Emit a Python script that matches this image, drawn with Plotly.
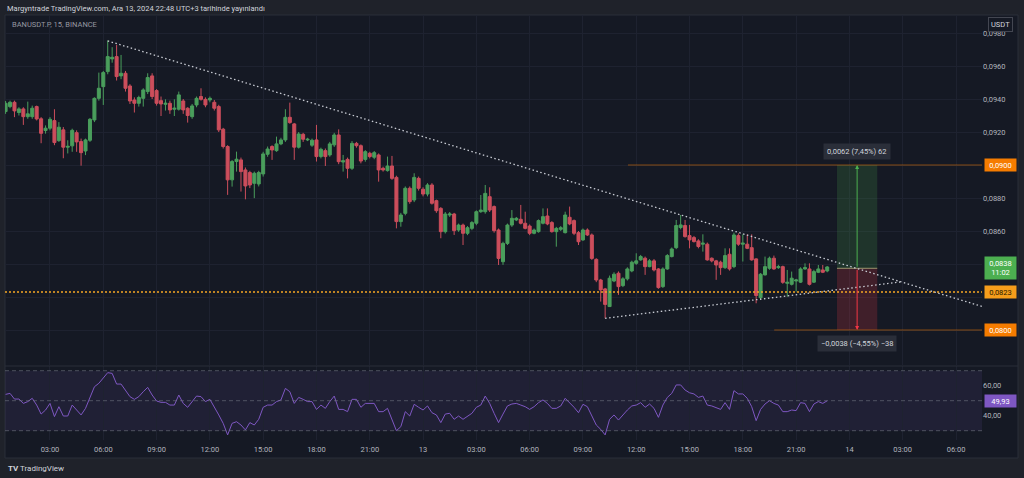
import pandas as pd
import plotly.graph_objects as go

# ---------------- data ----------------
times = pd.date_range("2024-12-12 00:30", periods=186, freq="15min")

open_ = [0.09324,0.09354,0.09380,0.09318,0.09340,0.09293,0.09293,0.09354,0.09280,0.09209,
0.09223,0.09269,0.09148,0.09213,0.09108,0.09116,0.09196,0.09142,0.09085,0.09150,
0.09273,0.09404,0.09475,0.09566,0.09643,0.09657,0.09540,0.09556,0.09479,0.09394,
0.09374,0.09404,0.09445,0.09540,0.09451,0.09390,0.09368,0.09374,0.09338,0.09338,
0.09388,0.09344,0.09293,0.09364,0.09415,0.09398,0.09394,0.09380,0.09354,0.09217,
0.09112,0.08910,0.09021,0.09031,0.08970,0.08954,0.08889,0.08885,0.08946,0.09065,
0.09112,0.09087,0.09128,0.09152,0.09289,0.09249,0.09108,0.09186,0.09152,0.09120,
0.09152,0.09051,0.09087,0.09061,0.09122,0.09182,0.09018,0.09034,0.08980,0.09131,
0.09117,0.09034,0.09071,0.09047,0.09061,0.08980,0.08966,0.08994,0.08925,0.08657,
0.08707,0.08859,0.08788,0.08919,0.08853,0.08824,0.08879,0.08784,0.08737,0.08596,
0.08697,0.08703,0.08606,0.08636,0.08586,0.08616,0.08647,0.08717,0.08717,0.08808,
0.08748,0.08606,0.08414,0.08525,0.08636,0.08667,0.08671,0.08647,0.08630,0.08586,
0.08596,0.08647,0.08691,0.08651,0.08596,0.08610,0.08590,0.08683,0.08663,0.08590,
0.08546,0.08606,0.08576,0.08428,0.08303,0.08249,0.08142,0.08297,0.08344,0.08269,
0.08310,0.08358,0.08404,0.08425,0.08435,0.08384,0.08419,0.08370,0.08263,0.08370,
0.08445,0.08499,0.08621,0.08633,0.08572,0.08560,0.08540,0.08520,0.08520,0.08435,
0.08419,0.08411,0.08378,0.08459,0.08384,0.08572,0.08520,0.08520,0.08499,0.08431,
0.08196,0.08334,0.08374,0.08435,0.08378,0.08384,0.08283,0.08277,0.08297,0.08290,
0.08370,0.08370,0.08290,0.08350,0.08364,0.08358]

high = [0.09388,0.09390,0.09390,0.09350,0.09350,0.09384,0.09360,0.09360,0.09290,0.09240,
0.09290,0.09338,0.09260,0.09230,0.09150,0.09220,0.09210,0.09160,0.09160,0.09285,
0.09410,0.09560,0.09570,0.09755,0.09714,0.09728,0.09667,0.09570,0.09490,0.09410,
0.09420,0.09465,0.09556,0.09556,0.09460,0.09415,0.09398,0.09390,0.09398,0.09445,
0.09400,0.09350,0.09370,0.09415,0.09465,0.09410,0.09415,0.09394,0.09365,0.09225,
0.09120,0.09030,0.09081,0.09045,0.08985,0.08965,0.08960,0.08965,0.09080,0.09112,
0.09120,0.09172,0.09165,0.09338,0.09378,0.09255,0.09200,0.09195,0.09165,0.09160,
0.09243,0.09105,0.09100,0.09140,0.09195,0.09216,0.09061,0.09045,0.09145,0.09140,
0.09125,0.09090,0.09080,0.09085,0.09070,0.08990,0.09051,0.09055,0.08935,0.08710,
0.08870,0.08870,0.08950,0.08930,0.08865,0.08890,0.08890,0.08790,0.08745,0.08715,
0.08715,0.08710,0.08645,0.08645,0.08630,0.08660,0.08725,0.08818,0.08879,0.08865,
0.08755,0.08615,0.08535,0.08645,0.08727,0.08685,0.08758,0.08717,0.08640,0.08615,
0.08670,0.08737,0.08737,0.08660,0.08625,0.08630,0.08717,0.08748,0.08670,0.08600,
0.08615,0.08616,0.08585,0.08435,0.08310,0.08255,0.08330,0.08350,0.08355,0.08320,
0.08380,0.08420,0.08465,0.08455,0.08445,0.08430,0.08430,0.08375,0.08380,0.08460,
0.08500,0.08667,0.08697,0.08667,0.08637,0.08570,0.08550,0.08580,0.08530,0.08440,
0.08425,0.08420,0.08495,0.08495,0.08590,0.08586,0.08580,0.08580,0.08580,0.08435,
0.08345,0.08445,0.08445,0.08451,0.08395,0.08390,0.08364,0.08354,0.08310,0.08380,
0.08404,0.08404,0.08365,0.08394,0.08394,0.08388]

low = [0.09310,0.09344,0.09290,0.09300,0.09243,0.09280,0.09280,0.09270,0.09132,0.09190,
0.09210,0.09120,0.09140,0.09041,0.09070,0.09080,0.09080,0.08996,0.09060,0.09140,
0.09260,0.09390,0.09364,0.09550,0.09620,0.09512,0.09520,0.09445,0.09370,0.09318,
0.09354,0.09354,0.09430,0.09400,0.09360,0.09297,0.09330,0.09310,0.09297,0.09330,
0.09310,0.09257,0.09280,0.09350,0.09390,0.09350,0.09380,0.09330,0.09200,0.09100,
0.08819,0.08869,0.08960,0.08839,0.08792,0.08860,0.08799,0.08870,0.08930,0.09050,
0.09031,0.09080,0.09120,0.09140,0.09250,0.09031,0.09100,0.09140,0.09145,0.09110,
0.09021,0.09040,0.08994,0.09050,0.09110,0.09005,0.08960,0.08919,0.08970,0.09105,
0.09010,0.09020,0.09040,0.09035,0.08899,0.08960,0.08960,0.08910,0.08616,0.08626,
0.08695,0.08765,0.08775,0.08845,0.08810,0.08810,0.08760,0.08710,0.08556,0.08585,
0.08685,0.08576,0.08595,0.08515,0.08575,0.08605,0.08635,0.08710,0.08705,0.08715,
0.08590,0.08394,0.08395,0.08515,0.08625,0.08660,0.08640,0.08610,0.08575,0.08580,
0.08590,0.08640,0.08635,0.08590,0.08505,0.08600,0.08585,0.08635,0.08575,0.08515,
0.08540,0.08570,0.08425,0.08290,0.08172,0.08071,0.08140,0.08290,0.08213,0.08260,
0.08300,0.08350,0.08395,0.08420,0.08334,0.08380,0.08355,0.08250,0.08255,0.08365,
0.08440,0.08490,0.08610,0.08560,0.08495,0.08530,0.08495,0.08475,0.08420,0.08410,
0.08304,0.08334,0.08370,0.08360,0.08375,0.08510,0.08415,0.08490,0.08420,0.08162,
0.08185,0.08330,0.08365,0.08365,0.08370,0.08280,0.08202,0.08270,0.08233,0.08285,
0.08365,0.08270,0.08285,0.08345,0.08345,0.08350]

close = [0.09374,0.09380,0.09328,0.09340,0.09293,0.09310,0.09344,0.09279,0.09192,0.09223,
0.09277,0.09136,0.09229,0.09108,0.09113,0.09210,0.09140,0.09075,0.09152,0.09277,
0.09404,0.09465,0.09560,0.09657,0.09653,0.09536,0.09556,0.09465,0.09388,0.09374,
0.09409,0.09455,0.09530,0.09415,0.09374,0.09370,0.09374,0.09334,0.09344,0.09425,
0.09334,0.09300,0.09358,0.09404,0.09398,0.09364,0.09404,0.09344,0.09213,0.09112,
0.08910,0.09021,0.09035,0.08960,0.08873,0.08879,0.08950,0.08954,0.09067,0.09097,
0.09091,0.09128,0.09152,0.09289,0.09257,0.09108,0.09188,0.09156,0.09156,0.09150,
0.09051,0.09095,0.09051,0.09128,0.09182,0.09020,0.09026,0.08980,0.09131,0.09117,
0.09024,0.09081,0.09051,0.09075,0.08970,0.08970,0.08994,0.08919,0.08657,0.08697,
0.08859,0.08778,0.08925,0.08859,0.08824,0.08879,0.08768,0.08723,0.08596,0.08703,
0.08703,0.08602,0.08636,0.08586,0.08620,0.08651,0.08717,0.08727,0.08828,0.08727,
0.08602,0.08434,0.08525,0.08636,0.08677,0.08677,0.08647,0.08616,0.08586,0.08606,
0.08663,0.08687,0.08643,0.08596,0.08616,0.08620,0.08697,0.08643,0.08586,0.08535,
0.08606,0.08576,0.08434,0.08303,0.08243,0.08155,0.08314,0.08338,0.08263,0.08310,
0.08370,0.08411,0.08419,0.08445,0.08384,0.08419,0.08364,0.08257,0.08370,0.08451,
0.08491,0.08633,0.08637,0.08566,0.08546,0.08536,0.08506,0.08526,0.08425,0.08419,
0.08394,0.08378,0.08451,0.08370,0.08576,0.08520,0.08526,0.08495,0.08425,0.08209,
0.08338,0.08384,0.08435,0.08370,0.08384,0.08289,0.08289,0.08314,0.08303,0.08370,
0.08378,0.08277,0.08354,0.08370,0.08350,0.08382]

rsi = [54.2,54.9,51.1,51.1,48.2,49.4,51.6,47.1,41.1,43.8,
48.2,39.4,46.0,39.8,39.8,47.1,43.8,40.5,44.9,52.7,
59.3,61.6,64.9,68.7,68.2,61.1,61.1,57.1,52.7,50.9,
52.7,56.0,58.9,53.8,49.8,48.9,48.9,47.1,47.1,53.8,
48.2,45.6,49.4,53.1,52.7,49.4,50.9,46.0,40.5,34.9,
27.2,34.9,36.0,33.8,30.5,35.4,33.8,37.6,45.6,47.1,
47.1,49.4,50.5,58.2,56.0,48.2,52.2,50.9,49.4,49.4,
44.2,47.1,44.9,49.4,53.1,44.2,44.2,42.7,50.9,50.9,
45.6,48.2,48.2,48.2,42.7,42.7,44.9,37.1,30.0,32.7,
42.7,39.8,47.6,45.6,43.8,46.5,42.0,40.5,35.4,41.1,
41.6,37.6,39.8,37.6,39.4,41.6,45.6,47.1,53.1,48.2,
41.6,35.4,41.1,46.5,47.8,48.2,
47.1,46.0,44.2,46.0,48.7,50.5,48.2,44.9,44.9,46.5,
51.6,48.7,45.6,42.0,47.6,46.0,39.4,33.8,30.9,27.2,
37.6,40.5,37.1,40.5,43.8,46.5,47.1,48.7,45.6,47.8,
44.9,38.9,47.1,52.2,54.9,60.5,60.5,57.1,55.3,54.5,
52.2,53.1,47.1,46.5,45.6,44.2,48.7,44.2,56.7,54.5,
54.5,51.6,46.0,36.7,44.2,47.8,50.0,48.2,47.1,42.7,
42.7,43.8,43.4,48.7,48.2,42.7,47.8,49.4,48.2,49.93]

# price scale: the labels at 0.0800/0.0820/0.0840/0.0900 sit under the price-label boxes
price_ticks = [0.080, 0.082, 0.084, 0.086, 0.088, 0.090, 0.092, 0.094, 0.096, 0.098]
price_tick_text = ["", "", "", "0,0860", "0,0880", "", "0,0920", "0,0940", "0,0960", "0,0980"]
time_ticks = pd.date_range("2024-12-12 03:00", "2024-12-14 06:00", freq="3h")
time_tick_text = ["03:00", "06:00", "09:00", "12:00", "15:00", "18:00", "21:00", "13",
                  "03:00", "06:00", "09:00", "12:00", "15:00", "18:00", "21:00", "14",
                  "03:00", "06:00"]
rsi_ticks = [40, 60]
rsi_tick_text = ["40,00", "60,00"]

# drawings (TradingView tools)
upper_trend = [("2024-12-12 06:15", 0.09752), ("2024-12-14 07:31", 0.08141)]
lower_trend = [("2024-12-13 10:15", 0.08071), ("2024-12-14 02:51", 0.08291)]
hline_level = 0.0823
entry_price, target_price, stop_price = 0.08374, 0.0900, 0.0800
pos_start, pos_end, pos_mid = "2024-12-13 23:18", "2024-12-14 01:34", "2024-12-14 00:26"
target_line_start, stop_line_start = "2024-12-13 11:32", "2024-12-13 19:46"
last_price, rsi_last = "0,0838", "49,93"

# ---------------- style ----------------
W, H = 1024, 478
def px(x): return x / W
def py(y): return 1 - y / H

OUTER = "#1f222a"
CHART = "#151924"
GRID = "#1e2230"
BORDER = "#2a2e39"
TXT = "#b2b5be"
UP = "#4a9e5c"
DN = "#cc4e5c"
FONT = "Roboto"

t0, t1 = "2024-12-12 00:28:02", "2024-12-14 07:27:47"
xdom = [px(5), px(982)]

fig = go.Figure()
fig.add_trace(go.Candlestick(
    x=times, open=open_, high=high, low=low, close=close,
    xaxis="x", yaxis="y", whiskerwidth=0, hoverinfo="skip",
    increasing=dict(line=dict(color=UP, width=1), fillcolor=UP),
    decreasing=dict(line=dict(color=DN, width=1), fillcolor=DN),
    showlegend=False))
fig.add_trace(go.Scatter(
    x=times, y=rsi, xaxis="x2", yaxis="y2", mode="lines",
    line=dict(color="#7e57c2", width=1), hoverinfo="skip", showlegend=False))

shapes = [
    dict(type="rect", xref="paper", yref="paper", x0=px(5), x1=px(1018), y0=py(458), y1=py(15),
         fillcolor=CHART, line=dict(color=BORDER, width=1), layer="below"),
    dict(type="line", xref="paper", yref="paper", x0=px(5), x1=px(1018), y0=py(366), y1=py(366),
         line=dict(color=BORDER, width=1)),
    dict(type="rect", xref="x2", yref="y2", x0=t0, x1=t1, y0=30, y1=70,
         fillcolor="rgba(126,87,194,0.11)", line=dict(width=0), layer="below"),
]
for lvl in (70, 50, 30):
    shapes.append(dict(type="line", xref="x2", yref="y2", x0=t0, x1=t1, y0=lvl, y1=lvl,
                       line=dict(color="rgba(120,123,134,0.55)", width=1, dash="4px,3px")))
# long position tool
shapes += [
    dict(type="rect", xref="x", yref="y", x0=pos_start, x1=pos_end, y0=entry_price, y1=target_price,
         fillcolor="rgba(76,175,80,0.18)", line=dict(width=0)),
    dict(type="rect", xref="x", yref="y", x0=pos_start, x1=pos_end, y0=stop_price, y1=entry_price,
         fillcolor="rgba(242,54,69,0.20)", line=dict(width=0)),
    dict(type="line", xref="x", yref="y", x0=pos_start, x1=pos_end, y0=entry_price, y1=entry_price,
         line=dict(color="rgba(200,195,140,0.7)", width=1)),
    dict(type="line", xref="x", yref="y", x0=target_line_start, x1=t1, y0=target_price, y1=target_price,
         line=dict(color="rgba(245,124,0,0.5)", width=1)),
    dict(type="line", xref="x", yref="y", x0=stop_line_start, x1=t1, y0=stop_price, y1=stop_price,
         line=dict(color="rgba(245,124,0,0.5)", width=1)),
    dict(type="line", xref="x", yref="y", x0=t0, x1=t1, y0=hline_level, y1=hline_level,
         line=dict(color="#f5a623", width=1.5, dash="2px,2px")),
]
for (a, b) in (upper_trend, lower_trend):
    shapes.append(dict(type="line", xref="x", yref="y", x0=a[0], y0=a[1], x1=b[0], y1=b[1],
                       line=dict(color="#c9ccd4", width=1.3, dash="1.5px,2.5px")))

def box(text, y, yref, bg, fc="#ffffff", x=984, w=28):
    return dict(text=text, x=px(x), xref="paper", xanchor="left", y=y, yref=yref, yanchor="middle",
                showarrow=False, bgcolor=bg, borderpad=1.5, width=w, align="center",
                font=dict(family=FONT, size=7.5, color=fc))

annotations = [
    dict(text="Margyntrade TradingView.com, Ara 13, 2024 22:48 UTC+3 tarihinde yayınlandı",
         x=px(5), y=py(8), xref="paper", yref="paper", xanchor="left", yanchor="middle",
         showarrow=False, font=dict(family=FONT, size=7.5, color="#d1d4dc")),
    dict(text="BANUSDT.P, 15, BINANCE", x=px(10), y=py(24), xref="paper", yref="paper",
         xanchor="left", yanchor="middle", showarrow=False,
         font=dict(family=FONT, size=7.5, color="#9598a1")),
    dict(text="USDT", x=px(1000), y=py(24), xref="paper", yref="paper", xanchor="center",
         yanchor="middle", showarrow=False, bgcolor=CHART, bordercolor="#434651", borderwidth=1,
         borderpad=2, font=dict(family=FONT, size=7.5, color="#d1d4dc")),
    box("0,0900", target_price, "y", "#f57c00"),
    box(last_price + "<br>11:02", entry_price, "y", "#4caf50"),
    box("0,0823", hline_level, "y", "#f59d1b", fc="#2a1a00"),
    box("0,0800", stop_price, "y", "#f57c00"),
    box(rsi_last, 49.93, "y2", "#7e57c2"),
    dict(text="0,0062 (7,45%) 62", x=pos_mid, y=target_price, xref="x", yref="y",
         xanchor="center", yanchor="bottom", yshift=5, showarrow=False, bgcolor="#2a2e39",
         borderpad=3, font=dict(family=FONT, size=7.5, color="#d1d4dc")),
    dict(text="−0,0038 (−4,55%) −38", x=pos_mid, y=stop_price, xref="x", yref="y",
         xanchor="center", yanchor="top", yshift=-5, showarrow=False, bgcolor="#2a2e39",
         borderpad=3, font=dict(family=FONT, size=7.5, color="#d1d4dc")),
    dict(text="", x=pos_mid, y=target_price, ax=pos_mid, ay=entry_price, xref="x", yref="y",
         axref="x", ayref="y", showarrow=True, arrowhead=2, arrowsize=0.8, arrowwidth=1,
         arrowcolor="#4caf50"),
    dict(text="", x=pos_mid, y=stop_price, ax=pos_mid, ay=entry_price, xref="x", yref="y",
         axref="x", ayref="y", showarrow=True, arrowhead=2, arrowsize=0.8, arrowwidth=1,
         arrowcolor="#f23645"),
    dict(text="<b>TV</b> TradingView", x=px(6), y=py(468), xref="paper", yref="paper",
         xanchor="left", yanchor="middle", showarrow=False,
         font=dict(family=FONT, size=8, color="#d1d4dc")),
]

axis_common = dict(showline=False, zeroline=False, ticks="", fixedrange=True)
fig.update_layout(
    width=W, height=H, margin=dict(l=0, r=0, t=0, b=0),
    paper_bgcolor=OUTER, plot_bgcolor="rgba(0,0,0,0)",
    font=dict(family=FONT, size=7.5, color=TXT),
    boxgap=0.1, boxgroupgap=0.25, showlegend=False,
    xaxis=dict(domain=xdom, type="date", range=[t0, t1], anchor="y", showticklabels=False,
               tickvals=time_ticks, showgrid=True, gridcolor=GRID, gridwidth=1,
               rangeslider=dict(visible=False), **axis_common),
    xaxis2=dict(domain=xdom, type="date", range=[t0, t1], anchor="y2", matches="x",
                tickvals=time_ticks, ticktext=time_tick_text, showgrid=True, gridcolor=GRID,
                tickfont=dict(family=FONT, size=7.5, color=TXT), ticklabelstandoff=3,
                rangeslider=dict(visible=False), **axis_common),
    yaxis=dict(domain=[py(365), py(15)], range=[0.077879, 0.099091], side="right", anchor="x",
               tickvals=price_ticks, ticktext=price_tick_text, showgrid=True, gridcolor=GRID,
               tickfont=dict(family=FONT, size=7.5, color=TXT), **axis_common),
    yaxis2=dict(domain=[py(440), py(366)], range=[23.8, 73.13], side="right", anchor="x2",
                tickvals=rsi_ticks, ticktext=rsi_tick_text, showgrid=False,
                tickfont=dict(family=FONT, size=7.5, color=TXT), **axis_common),
    shapes=shapes, annotations=annotations,
)

fig.write_html("out.html")
